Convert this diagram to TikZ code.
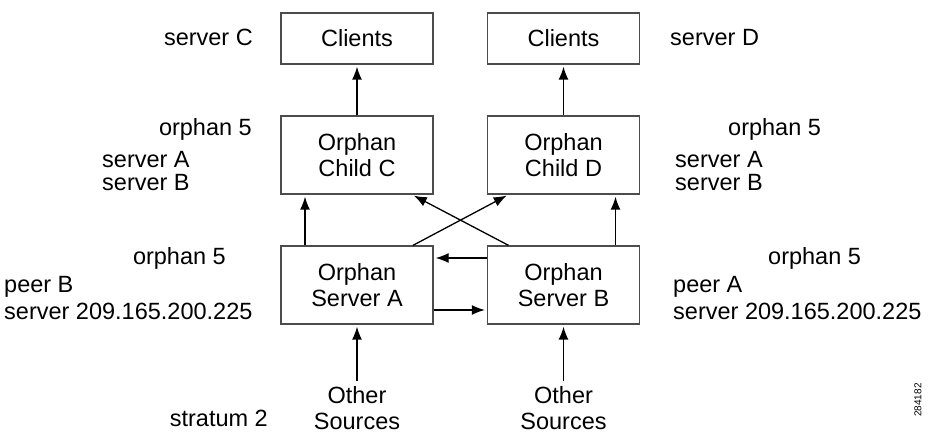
\documentclass[tikz,border=0pt]{standalone}
\usepackage{fontspec}
\setmainfont{Liberation Sans}
\usetikzlibrary{arrows.meta,positioning}

\begin{document}
\begin{tikzpicture}[x=1pt,y=1pt,on grid,>={Latex[length=13pt,width=10pt]},
  font=\fontsize{23.5}{26}\selectfont,
  box/.style={draw=black!70,line width=1.3pt,minimum width=152pt,minimum height=78pt,align=center,inner sep=0pt},
  slim/.style={box,minimum height=51pt},
  lbl/.style={inner sep=0pt},
  link/.style={->,line width=1.3pt,shorten >=2pt}]
\useasboundingbox (0,0) rectangle (929,434);
\node[box]	(srvA)	at (357,149)			{Orphan\\Server A};
\node[box]	(srvB)	[right=206.5pt of srvA]	{Orphan\\Server B};
\node[box]	(chC)	[above=130pt of srvA]	{Orphan\\Child C};
\node[box]	(chD)	[above=130pt of srvB]	{Orphan\\Child D};
\node[slim]	(clC)	[above=116.5pt of chC]	{Clients};
\node[slim]	(clD)	[above=116.5pt of chD]	{Clients};
\node[lbl,align=center,anchor=base]	(srcA)	at (357,5)	{Other\\Sources};
\node[lbl,align=center,anchor=base]	(srcB)	at (563.5,5)	{Other\\Sources};

% labels beside the boxes
\node[lbl,anchor=base east]	(lsC)	at (253,388)	{server C};
\node[lbl,anchor=base west]	(lsD)	at (670,388)	{server D};
\node[lbl,anchor=base east]	(loC)	at (252,298)	{orphan 5};
\node[lbl,anchor=base west]	(lsAC)	at (102,266)	{server A};
\node[lbl,anchor=base west]	(lsBC)	at (102,243)	{server B};
\node[lbl,anchor=base west]	(loD)	at (728,298)	{orphan 5};
\node[lbl,anchor=base west]	(lsAD)	at (675,266)	{server A};
\node[lbl,anchor=base west]	(lsBD)	at (675,243)	{server B};
\node[lbl,anchor=base east]	(loA)	at (226,169)	{orphan 5};
\node[lbl,anchor=base west]	(lpA)	at (4,141)	{peer B};
\node[lbl,anchor=base west]	(lipA)	at (4,114)	{server 209.165.200.225};
\node[lbl,anchor=base west]	(loB)	at (768,169)	{orphan 5};
\node[lbl,anchor=base west]	(lpB)	at (673,141)	{peer A};
\node[lbl,anchor=base west]	(lipB)	at (673,114)	{server 209.165.200.225};
\node[lbl,anchor=base east]	(lst)	at (268,8)	{stratum 2};
\node[lbl,rotate=90,font=\fontsize{10}{12}\selectfont]	(fig)	at (918,34)	{284182};

\path[link]
(chC)		edge	(clC)
(chD)		edge	(clD)
([xshift=-52pt]srvA.north)	edge	([xshift=-52pt]chC.south)
([xshift=52pt]srvB.north)	edge	([xshift=52pt]chD.south)
([xshift=56pt]srvA.north)	edge	([xshift=-55pt]chD.south)
([xshift=-55pt]srvB.north)	edge	([xshift=55pt]chC.south)
([yshift=27pt]srvB.west)	edge	([yshift=27pt]srvA.east)
([yshift=-25pt]srvA.east)	edge	([yshift=-25pt]srvB.west)
([yshift=5pt]srcA.north)	edge	(srvA)
([yshift=5pt]srcB.north)	edge	(srvB)
;
\end{tikzpicture}
\end{document}
